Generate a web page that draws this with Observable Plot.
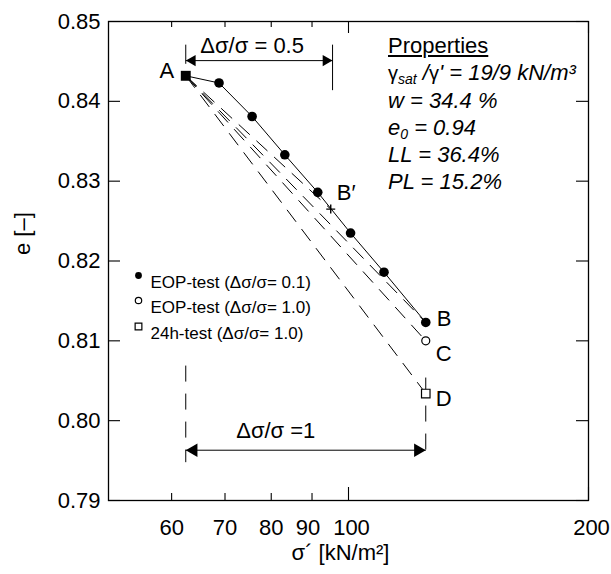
<!DOCTYPE html>
<html>
<head>
<meta charset="utf-8">
<script src="https://cdn.jsdelivr.net/npm/d3@7"></script>
<script src="https://cdn.jsdelivr.net/npm/@observablehq/plot@0.6"></script>
<style>
  html, body { margin: 0; padding: 0; background: #fff; }
  #wrap { position: relative; width: 611px; height: 574px; font-family: "Liberation Sans", Arial, sans-serif; }
  #props { position: absolute; left: 388px; top: 32px; font-size: 22px; line-height: 27px; color: #000; font-style: italic; white-space: nowrap; }
  #props .head { font-style: normal; text-decoration: underline; }
  #props .g { font-style: normal; font-size: 20px; }
  #props sub { font-size: 14px; vertical-align: -4px; line-height: 0; }
</style>
</head>
<body>
<div id="wrap"></div>
<script>
// ---------- data ----------
// EOP-test (Δσ/σ = 0.1): first point is A, last point is B
const eopSigma = [62.5, 68.8, 75.7, 83.2, 91.5, 100.6, 110.8, 125.0];
const eopE     = [0.8432, 0.8423, 0.8381, 0.8333, 0.8286, 0.8235, 0.8186, 0.8123];
const sigmaA = 62.5, eA = 0.8432;
const sigmaBp = 95.0, eBp = 0.8265;     // B′
const sigmaC = 125.0, eC = 0.8100;      // EOP-test Δσ/σ = 1.0
const sigmaD = 125.0, eD = 0.8034;      // 24h-test Δσ/σ = 1.0
// dashed lines from A to B′, B, C, D
const dashToSigma = [95.0, 125.0, 125.0, 125.0];
const dashToE     = [0.8265, 0.8123, 0.8100, 0.8034];
// dimension lines
const dim05Sigma = [62.5, 95.5];  const dim05E = 0.8451;
const dim1Sigma  = [62.5, 125.0]; const dim1E  = 0.7963;
const dim05TickE = [[0.8471, 0.8447], [0.8471, 0.8414]];
const dim1VertE  = [[0.8069, 0.7948], [0.8054, 0.7962]];
// axis ticks
const xTickValues = [60, 70, 80, 90, 100, 200];
const xMinorTicks = [60, 70, 80, 90];
const xMajorTicks = [100, 200];
const yTickValues = [0.79, 0.80, 0.81, 0.82, 0.83, 0.84, 0.85];
// texts
const xLabel = "σ´ [kN/m²]";
const yLabel = "e [–]";
const legendLabels = ["EOP-test (Δσ/σ= 0.1)", "EOP-test (Δσ/σ= 1.0)", "24h-test (Δσ/σ= 1.0)"];
const dimLabels = ["Δσ/σ = 0.5", "Δσ/σ =1"];

// ---------- build ----------
const W = 611, H = 574, mL = 108, mR = 23, mT = 21, mB = 74;
const pw = W - mL - mR, ph = H - mT - mB;
const font = "Liberation Sans, Arial, sans-serif";

const eop = eopSigma.map((s, i) => ({s, e: eopE[i]}));
const eopCircles = eop.slice(1);
const dashes = dashToSigma.map((s, i) => ({x1: sigmaA, y1: eA, x2: s, y2: dashToE[i]}));
const dim05Ticks = dim05Sigma.map((s, i) => ({x: s, y1: dim05TickE[i][0], y2: dim05TickE[i][1]}));
const dim1Verts = dim1Sigma.map((s, i) => ({x: s, y1: dim1VertE[i][0], y2: dim1VertE[i][1]}));
const triR = 5.0, triOff = 3 * Math.sqrt((Math.PI * triR * triR) / (3 * Math.sqrt(3))) * 2 / 3;
const fmtX = d => String(d);

const chart = Plot.plot({
  width: W, height: H,
  marginLeft: mL, marginRight: mR, marginTop: mT, marginBottom: mB,
  style: {fontFamily: font, fontSize: "22px", color: "#000", background: "#fff", overflow: "visible"},
  x: {type: "log", domain: [50, 200]},
  y: {domain: [0.79, 0.85]},
  marks: [
    Plot.frame({stroke: "#000", strokeWidth: 1.3}),
    // inward ticks
    Plot.tickX(xMinorTicks, {x: d => d, insetTop: ph - 7, stroke: "#000", strokeWidth: 1.1}),
    Plot.tickX(xMajorTicks, {x: d => d, insetTop: ph - 13, stroke: "#000", strokeWidth: 1.1}),
    Plot.tickX(xMinorTicks, {x: d => d, insetBottom: ph - 6, stroke: "#000", strokeWidth: 1.1}),
    Plot.tickX(xMajorTicks, {x: d => d, insetBottom: ph - 12, stroke: "#000", strokeWidth: 1.1}),
    Plot.tickY(yTickValues, {y: d => d, insetRight: pw - 12, stroke: "#000", strokeWidth: 1.1}),
    Plot.tickY(yTickValues, {y: d => d, insetLeft: pw - 12, stroke: "#000", strokeWidth: 1.1}),
    Plot.axisX({ticks: xTickValues.slice(0, 3), tickSize: 0, tickPadding: 19, tickFormat: fmtX, label: null}),
    Plot.axisX({ticks: xTickValues.slice(3, 4), tickSize: 0, tickPadding: 19, tickFormat: fmtX, label: null, dx: -4}),
    Plot.axisX({ticks: xTickValues.slice(4), tickSize: 0, tickPadding: 19, tickFormat: fmtX, label: null, dx: 3}),
    Plot.axisY({ticks: yTickValues, tickSize: 0, tickPadding: 8, tickFormat: d3.format(".2f"), label: null}),
    Plot.text([xLabel], {frameAnchor: "bottom", text: d => d, dy: 59, dx: -8, fontSize: 22}),
    Plot.text([yLabel], {frameAnchor: "left", text: d => d, dx: -86, dy: -6, rotate: -90, fontSize: 22}),
    // dashed lines from A
    Plot.link(dashes, {x1: "x1", y1: "y1", x2: "x2", y2: "y2", stroke: "#000", strokeWidth: 1, strokeDasharray: "15,9"}),
    // dimension Δσ/σ = 1
    Plot.link(dim1Verts, {x1: "x", x2: "x", y1: "y1", y2: "y2", stroke: "#000", strokeWidth: 1, strokeDasharray: "16,12"}),
    Plot.link([0], {x1: dim1Sigma[0], x2: dim1Sigma[1], y1: dim1E, y2: dim1E, stroke: "#000", strokeWidth: 1}),
    Plot.dot([0], {x: dim1Sigma[0], y: dim1E, symbol: "triangle", r: triR, rotate: -90, dx: triOff, fill: "#000", stroke: "none"}),
    Plot.dot([0], {x: dim1Sigma[1], y: dim1E, symbol: "triangle", r: triR, rotate: 90, dx: -triOff, fill: "#000", stroke: "none"}),
    Plot.text([dimLabels[1]], {x: Math.sqrt(dim1Sigma[0] * dim1Sigma[1]), y: dim1E, text: d => d, dy: -19, dx: -30, fontSize: 22}),
    // dimension Δσ/σ = 0.5
    Plot.link(dim05Ticks, {x1: "x", x2: "x", y1: "y1", y2: "y2", stroke: "#000", strokeWidth: 1}),
    Plot.link([0], {x1: dim05Sigma[0], x2: dim05Sigma[1], y1: dim05E, y2: dim05E, stroke: "#000", strokeWidth: 1}),
    Plot.dot([0], {x: dim05Sigma[0], y: dim05E, symbol: "triangle", r: 4.2, rotate: -90, dx: 6.6, fill: "#000", stroke: "none"}),
    Plot.dot([0], {x: dim05Sigma[1], y: dim05E, symbol: "triangle", r: 4.2, rotate: 90, dx: -6.6, fill: "#000", stroke: "none"}),
    Plot.text([dimLabels[0]], {x: Math.sqrt(dim05Sigma[0] * dim05Sigma[1]), y: dim05E, text: d => d, dy: -15, dx: -7, fontSize: 22}),
    // EOP line and points
    Plot.line(eop, {x: "s", y: "e", stroke: "#000", strokeWidth: 1}),
    Plot.dot(eopCircles, {x: "s", y: "e", r: 4.8, fill: "#000", stroke: "none"}),
    Plot.dot([0], {x: sigmaA, y: eA, symbol: "square", r: 5.6, fill: "#000", stroke: "none"}),
    Plot.dot([0], {x: sigmaC, y: eC, r: 4, fill: "#fff", stroke: "#000", strokeWidth: 1.2}),
    Plot.dot([0], {x: sigmaD, y: eD, symbol: "square", r: 4.8, fill: "#fff", stroke: "#000", strokeWidth: 1.2}),
    Plot.dot([0], {x: sigmaBp, y: eBp, symbol: "plus", r: 3, stroke: "#000", strokeWidth: 1.4}),
    // point labels
    Plot.text(["A"], {x: sigmaA, y: eA, text: d => d, dx: -19, dy: -5, fontSize: 22}),
    Plot.text(["B′"], {x: sigmaBp, y: eBp, text: d => d, dx: 6, dy: -16, textAnchor: "start", fontSize: 22}),
    Plot.text(["B"], {x: eopSigma[eopSigma.length - 1], y: eopE[eopE.length - 1], text: d => d, dx: 11, dy: -4, textAnchor: "start", fontSize: 22}),
    Plot.text(["C"], {x: sigmaC, y: eC, text: d => d, dx: 10, dy: 13, textAnchor: "start", fontSize: 22}),
    Plot.text(["D"], {x: sigmaD, y: eD, text: d => d, dx: 10, dy: 5, textAnchor: "start", fontSize: 22}),
    // legend
    Plot.dot([0], {frameAnchor: "top-left", dx: 30, dy: 254, r: 3.4, fill: "#000", stroke: "none"}),
    Plot.dot([0], {frameAnchor: "top-left", dx: 30, dy: 279, r: 3.2, fill: "#fff", stroke: "#000", strokeWidth: 1.2}),
    Plot.dot([0], {frameAnchor: "top-left", dx: 30, dy: 305, symbol: "square", r: 3.8, fill: "#fff", stroke: "#000", strokeWidth: 1.2}),
    Plot.text([legendLabels[0]], {frameAnchor: "top-left", dx: 42, dy: 254, text: d => d, textAnchor: "start", fontSize: 17}),
    Plot.text([legendLabels[1]], {frameAnchor: "top-left", dx: 42, dy: 279, text: d => d, textAnchor: "start", fontSize: 17}),
    Plot.text([legendLabels[2]], {frameAnchor: "top-left", dx: 42, dy: 305, text: d => d, textAnchor: "start", fontSize: 17})
  ]
});

const wrap = document.getElementById("wrap");
wrap.appendChild(chart);

// properties block
const props = document.createElement("div");
props.id = "props";
props.innerHTML =
  '<div class="head">Properties</div>' +
  '<div><span class="g">γ</span><sub>sat</sub> /<span class="g">γ</span>\' = 19/9 kN/m³</div>' +
  '<div>w = 34.4 %</div>' +
  '<div>e<sub>0</sub> = 0.94</div>' +
  '<div>LL = 36.4%</div>' +
  '<div>PL = 15.2%</div>';
wrap.appendChild(props);
</script>
</body>
</html>
